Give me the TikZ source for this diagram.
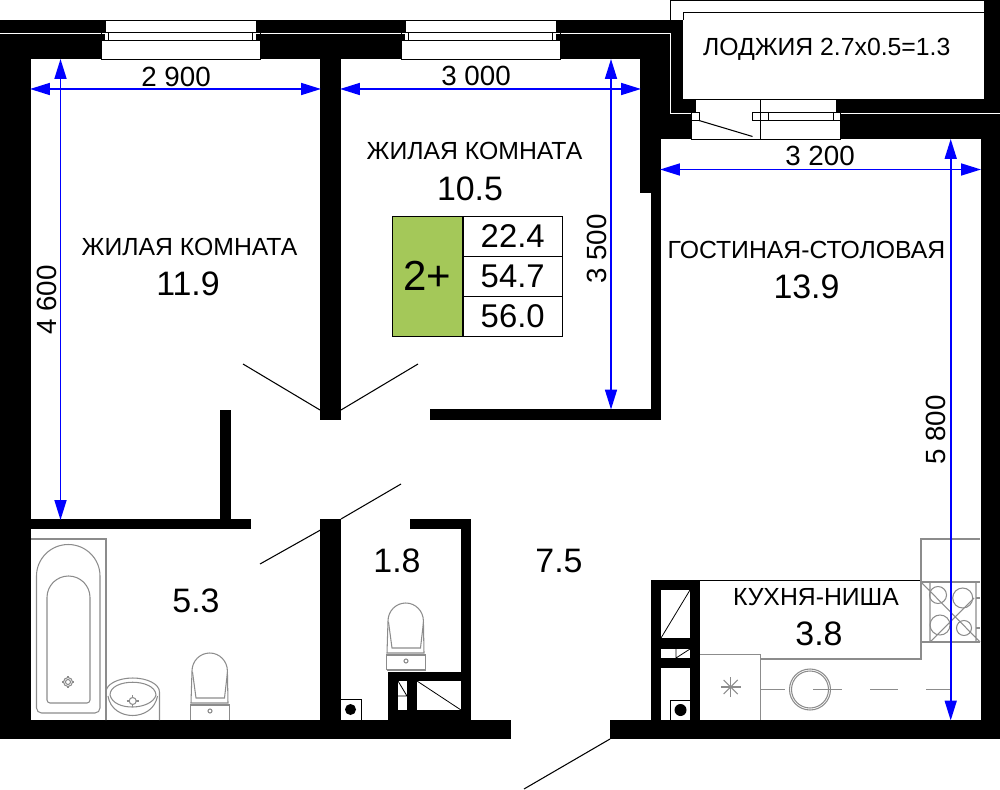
\documentclass[tikz,border=0pt]{standalone}
\usepackage{fontspec}
\setmainfont{Liberation Sans}
\usepackage{xcolor}
\usetikzlibrary{arrows,arrows.meta,positioning}
\definecolor{plangreen}{HTML}{A4C859}
\definecolor{fixture}{HTML}{8C8C8C}

\begin{document}
\begin{tikzpicture}[x=0.02cm,y=-0.02cm,node distance=0.8cm]
    % one unit is one pixel of the plan, y runs downwards
    \tikzstyle{wall}=[fill=black,draw=none]
    \tikzstyle{gap}=[fill=white,draw=none]
    \tikzstyle{thin}=[draw=black,line width=0.45pt]
    \tikzstyle{grayline}=[draw=fixture,line width=0.6pt]
    \tikzstyle{doorline}=[draw=black,line width=0.6pt]
    \tikzstyle{dimline}=[draw=blue,line width=0.95pt,{Triangle[length=11.3pt,width=6.8pt]}-{Triangle[length=11.3pt,width=6.8pt]}]
    \tikzstyle{dimtext}=[inner sep=0pt,font=\fontsize{15.8}{18}\selectfont]
    \tikzstyle{roomtext}=[inner sep=0pt,font=\fontsize{14.1}{16}\selectfont]
    \tikzstyle{areatext}=[inner sep=0pt,font=\fontsize{19.3}{22}\selectfont]
    \tikzstyle{cell}=[rectangle,draw=black,line width=0.7pt,inner sep=0pt,minimum width=56.4pt,minimum height=22.7pt,font=\fontsize{18.7}{22}\selectfont]

    \useasboundingbox (0,0) rectangle (1000,790);

    % outer walls
    \fill [wall] (0,20) rectangle (683,59);
    \fill [wall] (0,20) rectangle (31,739);
    \fill [wall] (0,719.5) rectangle (511,739);
    \fill [wall] (610,720) rectangle (1000,739);
    \fill [wall] (984,0) rectangle (1000,140);
    \fill [wall] (980.5,100) rectangle (1000,739);
    \fill [wall] (640,20) rectangle (683,139);
    \fill [wall] (640,59) rectangle (661,192.7);
    \fill [wall] (670,99.5) rectangle (1000,139);
    % inner walls
    \fill [wall] (320,59) rectangle (341,420);
    \fill [wall] (651,139) rectangle (661,420);
    \fill [wall] (430,409) rectangle (661,420);
    \fill [wall] (220,410) rectangle (231,519);
    \fill [wall] (0,519) rectangle (251,529);
    \fill [wall] (320,519) rectangle (341,720);
    \fill [wall] (410,519) rectangle (471,529);
    \fill [wall] (461,519) rectangle (471,720);
    \fill [wall] (388,671.5) rectangle (471,720);
    \fill [wall] (651,580) rectangle (700,720);

    % light joints in the outer wall
    \draw [white,line width=0.5pt] (0,33) -- (670.5,33) -- (670.5,113) -- (691,113);
    \draw [white,line width=0.5pt] (841,113) -- (1000,113);

    % windows of the two bedrooms
    \foreach \wx in {0,300} {
      \fill [gap,xshift=\wx*0.02cm] (101,40) rectangle (260,59);
      \fill [gap,xshift=\wx*0.02cm] (105,20) rectangle (256,40);
      \draw [thin,xshift=\wx*0.02cm] (101,32) rectangle (260,40);
      \draw [thin,xshift=\wx*0.02cm] (108.5,32) -- (108.5,40) (252.5,32) -- (252.5,40);
      \draw [thin,xshift=\wx*0.02cm] (105,32) -- (105,20) -- (256,20) -- (256,32) (101,40) -- (101,59) -- (260,59) -- (260,40);
    }

    % balcony door
    \fill [gap] (695,99.5) rectangle (836,120);
    \fill [gap] (691,113) rectangle (840,139);
    \draw [thin] (695,112) -- (695,99.5) -- (836,99.5) -- (836,112) (691,120) -- (691,139) -- (840,139) -- (840,120);
    \draw [thin] (691,112) rectangle (699,120);
    \draw [thin] (752.5,112) rectangle (840,120);
    \draw [thin] (768,112) -- (768,120) (833,112) -- (833,120);
    \draw [thin] (760.5,99.5) -- (760.5,139);
    \coordinate (leafa) at (699,120.5);
    \coordinate (leafb) at (752.5,136.5);
    \draw [doorline] (leafa) -- (leafb);

    % loggia
    \fill [wall] (670.5,20) rectangle (683,99.5);
    \fill [wall] (683,99.5) rectangle (695,113);
    \fill [gap] (683,12) rectangle (984,99.5);
    \draw [thin] (670.5,20) -- (670.5,0.5) -- (984,0.5);
    \draw [thin] (683,20) -- (683,12) -- (984,12);
    \draw [thin] (683,99.5) -- (984,99.5);

    % door leaves
    \coordinate (doora1) at (320,410); \coordinate (doora2) at (243,364);
    \coordinate (doorb1) at (341,410); \coordinate (doorb2) at (418,364);
    \coordinate (doorc1) at (320.5,530); \coordinate (doorc2) at (260,564);
    \coordinate (doord1) at (341,519); \coordinate (doord2) at (401,484);
    \coordinate (doore1) at (610,739); \coordinate (doore2) at (524,789);
    \path (doora1) edge [doorline] (doora2);
    \path (doorb1) edge [doorline] (doorb2);
    \path (doorc1) edge [doorline] (doorc2);
    \path (doord1) edge [doorline] (doord2);
    \path (doore1) edge [doorline] (doore2);

    % shafts by the bathroom
    \fill [gap] (398,681) rectangle (407,710);
    \fill [gap] (417,681) rectangle (461,710);
    \draw [thin] (398,696) -- (407,696) (398,681) -- (407,696) (417,681) -- (461,710);
    \fill [gap] (341,699.5) rectangle (361,719.5);
    \draw [thin] (341,699.5) -- (361,699.5) -- (361,719.5);
    \fill (350.5,709.5) circle [radius=5.5];

    % shafts by the kitchen
    \fill [gap] (661,590) rectangle (690,638);
    \fill [gap] (661,649) rectangle (690,658);
    \fill [gap] (661,668) rectangle (690,720);
    \draw [thin] (661,638) -- (690,590) (676,649) -- (676,658) (676,658) -- (690,649);
    \draw [thin] (670.5,720) -- (670.5,700) -- (690,700);
    \fill (680.5,710) circle [radius=6];

    % bath
    \draw [grayline] (31,539) -- (106,539) -- (106,720);
    \draw [grayline] (36.5,576) arc [start angle=180,end angle=360,x radius=31.75,y radius=31.5]
      -- (100,708) arc [start angle=0,end angle=90,radius=5] -- (41.5,713) arc [start angle=90,end angle=180,radius=5] -- cycle;
    \draw [grayline] (47,597.5) arc [start angle=180,end angle=360,radius=21.5]
      -- (90,700) arc [start angle=0,end angle=90,radius=3] -- (50,703) arc [start angle=90,end angle=180,radius=3] -- cycle;
    \draw [grayline] (68,676) -- (68,688) (62,682) -- (74,682);
    \draw [grayline,fill=white] (68,682) circle [radius=4.5];
    \draw [grayline] (68,682) circle [radius=2.5];

    % washbasin
    \draw [grayline] (106,720) -- (106,692) arc [start angle=180,end angle=360,x radius=26.75,y radius=14] -- (159.5,720);
    \draw [grayline] (110,695) .. controls (110,678) and (155,678) .. (156,695)
      .. controls (152,710) and (114,712) .. (110,695);
    \draw [grayline] (108,696) .. controls (112,722) and (153,722) .. (157.5,696);
    \draw [grayline] (132.7,695) -- (132.7,707) (126.7,701) -- (138.7,701);
    \draw [grayline,fill=white] (132.7,701) circle [radius=3.5];

    % toilets, the second one is in the small bathroom
    \foreach \tx/\ty in {0/0,196/-50} {
      \begin{scope}[shift={(\tx*0.02cm,-\ty*0.02cm)}]
        \draw [grayline] (192,671) arc [start angle=180,end angle=360,x radius=17.7,y radius=18] -- (228,703) -- (191,703) -- cycle;
        \draw [grayline] (192.5,672) -- (196,698) -- (224.5,698) -- (227.5,672);
        \draw [grayline,fill=white] (190.5,720) -- (190.5,705) -- (229.5,705) -- (229.5,720);
        \draw [grayline] (210,711) circle [radius=2];
      \end{scope}
    }
    \draw [grayline] (386.5,670) -- (425.5,670);

    % kitchen fittings
    \draw [draw=black,line width=0.6pt] (700,580.5) -- (921,580.5);
    \draw [grayline] (980,539) -- (921,539) -- (921,659) -- (760.5,659);
    \draw [grayline] (700,654.5) -- (760.5,654.5) -- (760.5,720);
    \draw [grayline] (921,582) -- (980,582) (921,642) -- (980,642);
    \draw [grayline] (921,582) -- (980,642) (930,642) -- (974,598) (930,582) -- (930,642) (976,582) -- (976,642);
    \draw [grayline] (976,598) -- (980,598) (976,628) -- (980,628);
    \draw [grayline] (938,595) circle [radius=8.5];
    \draw [grayline] (962.7,598) circle [radius=10];
    \draw [grayline] (940,625) circle [radius=10];
    \draw [grayline] (964,628) circle [radius=7.5];
    \foreach \ang in {0,45,90,135}
      \draw [grayline] (730.7,687) ++(\ang:10) -- ++(\ang+180:20);
    \draw [grayline] (810,689.5) circle [radius=20.5];
    \draw [grayline] (810,689.5) circle [radius=18.5];
    \draw [grayline] (761,689.5) -- (785,689.5) (813,689.5) -- (842,689.5) (870,689.5) -- (898,689.5) (926,689.5) -- (950,689.5);

    % dimensions
    \coordinate (w1a) at (30,89);   \coordinate (w1b) at (321,89);
    \coordinate (w2a) at (340,89);  \coordinate (w2b) at (641,89);
    \coordinate (w3a) at (660,169.5); \coordinate (w3b) at (981,169.5);
    \coordinate (h1a) at (60.5,59); \coordinate (h1b) at (60.5,520);
    \coordinate (h2a) at (611,59);  \coordinate (h2b) at (611,409.5);
    \coordinate (h3a) at (950.7,139); \coordinate (h3b) at (950.7,720.5);
    \path (w1a) edge [dimline] (w1b);
    \path (w2a) edge [dimline] (w2b);
    \path (w3a) edge [dimline] (w3b);
    \path (h1a) edge [dimline] (h1b);
    \path (h2a) edge [dimline] (h2b);
    \path (h3a) edge [dimline] (h3b);
    \node [dimtext] (lw1) at (176,77) {2 900};
    \node [dimtext] (lw2) at (476,76) {3 000};
    \node [dimtext] (lw3) at (820,156) {3 200};
    \node [dimtext,rotate=90] (lh1) at (47,300) {4 600};
    \node [dimtext,rotate=90] (lh2) at (597,249) {3 500};
    \node [dimtext,rotate=90] (lh3) at (936,430) {5 800};

    % rooms
    \node [roomtext] (room1) at (189.5,247) {ЖИЛАЯ КОМНАТА};
    \node [areatext] (area1) at (188,284) {11.9};
    \node [roomtext] (room2) at (474.5,151) {ЖИЛАЯ КОМНАТА};
    \node [areatext] (area2) at (470,189) {10.5};
    \node [roomtext] (room3) at (806.5,250) {ГОСТИНАЯ-СТОЛОВАЯ};
    \node [areatext] (area3) at (806.5,287) {13.9};
    \node [roomtext] (room4) at (816,597) {КУХНЯ-НИША};
    \node [areatext] (area4) at (819,634) {3.8};
    \node [areatext] (area5) at (196,601) {5.3};
    \node [areatext] (area6) at (397,561) {1.8};
    \node [areatext] (area7) at (559,561) {7.5};
    \node [roomtext] (room8) at (826.7,49) {ЛОДЖИЯ 2.7x0.5=1.3};

    % apartment table
    \node [rectangle,draw=black,fill=plangreen,line width=0.7pt,inner sep=0pt,minimum width=40.2pt,minimum height=68.2pt,font=\fontsize{23.9}{26}\selectfont] (flat) at (427.5,276.3) {2+};
    \node [cell] (liv) at (512.7,276.3) {54.7};
    \node [cell,above of=liv] (tot) {22.4};
    \node [cell,below of=liv] (all) {56.0};
\end{tikzpicture}
\end{document}
